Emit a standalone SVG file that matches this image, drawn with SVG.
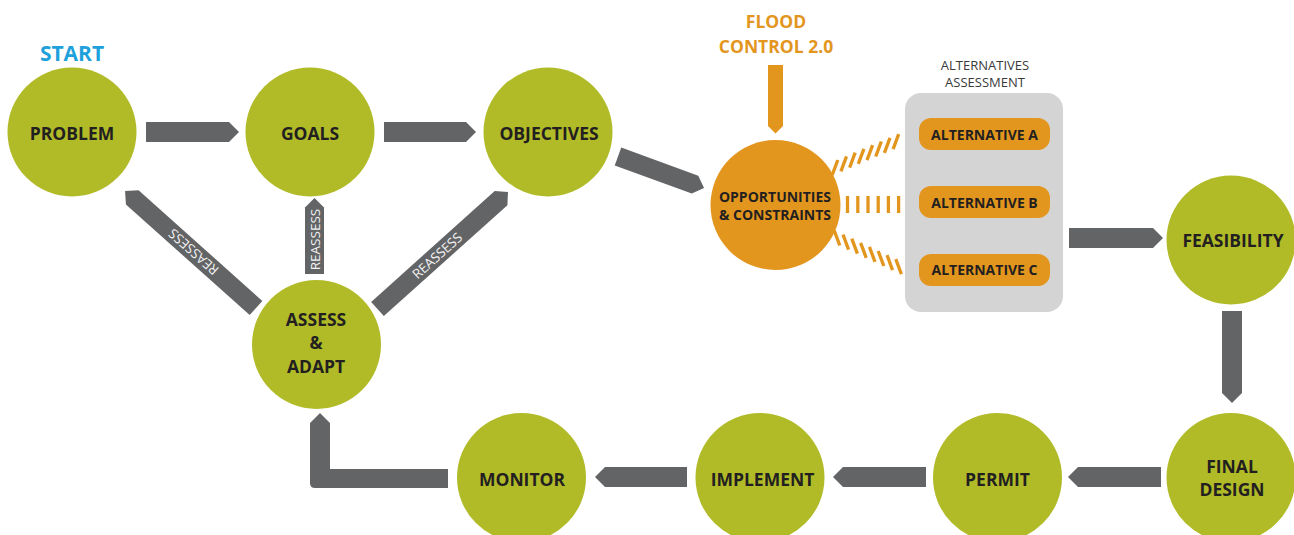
<svg xmlns="http://www.w3.org/2000/svg" width="1294" height="535" viewBox="0 0 1294 535">
<style>
.n{fill:#B1BB28}
.o{fill:#E3961E}
.a{fill:#636466}
.t{font-family:"Open Sans","Liberation Sans",sans-serif;font-weight:bold;fill:#231F20;text-anchor:middle}
.lg{font-size:17.5px}
.sm{font-size:14px}
.r{font-family:"Open Sans","Liberation Sans",sans-serif;font-size:13.5px;fill:#F2F2F2;text-anchor:middle;dominant-baseline:central}
.tk{stroke:#E3961E;stroke-width:3.3;fill:none}
</style>
<rect width="1294" height="535" fill="#FFFFFF"/>

<g id="labels">
<text x="72" y="61" style="font-family:'Open Sans','Liberation Sans',sans-serif;font-weight:bold;font-size:21px;fill:#1EA1DB;text-anchor:middle">START</text>
<text x="776" y="28" class="t" style="font-size:17.5px;fill:#E3961E">FLOOD</text>
<text x="776" y="53" class="t" style="font-size:17.5px;fill:#E3961E">CONTROL 2.0</text>
<text x="985" y="70" style="font-family:'Open Sans','Liberation Sans',sans-serif;font-size:13px;fill:#3A3A3A;text-anchor:middle">ALTERNATIVES</text>
<text x="985" y="87" style="font-family:'Open Sans','Liberation Sans',sans-serif;font-size:13px;fill:#3A3A3A;text-anchor:middle">ASSESSMENT</text>
</g>

<g id="connectors">
<polygon class="a" points="146,122 229,122 239,132 229,142 146,142"/>
<polygon class="a" points="384,122 466,122 476,132 466,142 384,142"/>
<path class="a" transform="translate(618,156.5) rotate(20.1)" d="M0,-9.5 H82 L91.6,0 L82,9.5 H0 Z"/>
<polygon class="o" points="768,65 783,65 783,126 775.5,133.5 768,126"/>
<polygon class="a" points="1069,228 1153,228 1163,238 1153,248 1069,248"/>
<polygon class="a" points="1222,311 1242,311 1242,393 1232,403 1222,393"/>
<polygon class="a" points="1161,467 1161,487 1078,487 1068,477 1078,467"/>
<polygon class="a" points="926,467 926,487 843,487 833,477 843,467"/>
<polygon class="a" points="687,467 687,487 605,487 595,477 605,467"/>
<path class="a" d="M448,469 H330 V423 L320,413 L310,423 V483 Q310,488 315,488 H448 Z"/>
<g transform="translate(256,308) rotate(221.8)">
<path class="a" d="M0,-9.5 H166 L175.6,0 L166,9.5 H0 Z"/>
<text class="r" x="84" y="0">REASSESS</text>
</g>
<g transform="translate(314.5,274) rotate(-90)">
<path class="a" d="M0,-9.5 H66.5 L76,0 L66.5,9.5 H0 Z"/>
<text class="r" x="34.5" y="0">REASSESS</text>
</g>
<g transform="translate(377.5,309) rotate(-41.9)">
<path class="a" d="M0,-9.5 H166 L175.3,0 L166,9.5 H0 Z"/>
<text class="r" x="80" y="0">REASSESS</text>
</g>
<g id="rays">
<line class="tk" x1="832.2" y1="175" x2="837.8" y2="160"/>
<line class="tk" x1="840.9" y1="171.3" x2="846.5" y2="156.3"/>
<line class="tk" x1="849.6" y1="167.6" x2="855.2" y2="152.6"/>
<line class="tk" x1="858.3" y1="163.9" x2="863.9" y2="148.9"/>
<line class="tk" x1="867" y1="160.2" x2="872.6" y2="145.2"/>
<line class="tk" x1="875.7" y1="156.5" x2="881.3" y2="141.5"/>
<line class="tk" x1="884.4" y1="152.8" x2="890" y2="137.8"/>
<line class="tk" x1="893.1" y1="149.1" x2="898.7" y2="134.1"/>
<line class="tk" x1="847.5" y1="196" x2="847.5" y2="213"/>
<line class="tk" x1="857.8" y1="196" x2="857.8" y2="213"/>
<line class="tk" x1="868" y1="196" x2="868" y2="213"/>
<line class="tk" x1="878.2" y1="196" x2="878.2" y2="213"/>
<line class="tk" x1="888.4" y1="196" x2="888.4" y2="213"/>
<line class="tk" x1="898.6" y1="196" x2="898.6" y2="213"/>
<line class="tk" x1="834.2" y1="230.5" x2="839.8" y2="245.5"/>
<line class="tk" x1="843" y1="234.6" x2="848.6" y2="249.6"/>
<line class="tk" x1="851.8" y1="238.7" x2="857.4" y2="253.7"/>
<line class="tk" x1="860.6" y1="242.8" x2="866.2" y2="257.8"/>
<line class="tk" x1="869.4" y1="246.9" x2="875" y2="261.9"/>
<line class="tk" x1="878.2" y1="251" x2="883.8" y2="266"/>
<line class="tk" x1="887" y1="255.1" x2="892.6" y2="270.1"/>
<line class="tk" x1="895.8" y1="259.2" x2="901.4" y2="274.2"/>
</g>
</g>

<g id="problem"><circle class="n" cx="72" cy="132" r="64.5"/><text class="t lg" x="72" y="140">PROBLEM</text></g>
<g id="goals"><circle class="n" cx="310" cy="132" r="64.5"/><text class="t lg" x="310" y="140">GOALS</text></g>
<g id="objectives"><circle class="n" cx="548" cy="132" r="64.5"/><text class="t lg" x="549" y="140">OBJECTIVES</text></g>
<g id="opportunities"><circle class="o" cx="775.5" cy="205" r="65"/><text class="t sm" x="775" y="202">OPPORTUNITIES</text><text class="t sm" x="775" y="220">&amp; CONSTRAINTS</text></g>
<g id="alternatives">
<rect x="905" y="93" width="158" height="219" rx="16" fill="#D4D4D4"/>
<g id="alt-a"><rect class="o" x="919" y="118" width="131" height="32" rx="12"/><text class="t sm" x="984.5" y="140">ALTERNATIVE A</text></g>
<g id="alt-b"><rect class="o" x="919" y="186" width="131" height="32" rx="12"/><text class="t sm" x="984.5" y="208">ALTERNATIVE B</text></g>
<g id="alt-c"><rect class="o" x="919" y="254" width="131" height="32" rx="12"/><text class="t sm" x="984.5" y="275">ALTERNATIVE C</text></g>
</g>
<g id="feasibility"><circle class="n" cx="1231" cy="240" r="64.5"/><text class="t lg" x="1233" y="247">FEASIBILITY</text></g>
<g id="final-design"><circle class="n" cx="1231" cy="477.5" r="64.5"/><text class="t lg" x="1232" y="473">FINAL</text><text class="t lg" x="1232" y="496">DESIGN</text></g>
<g id="permit"><circle class="n" cx="997.5" cy="477.5" r="64.5"/><text class="t lg" x="997.5" y="486">PERMIT</text></g>
<g id="implement"><circle class="n" cx="760" cy="477.5" r="64.5"/><text class="t lg" x="762.5" y="486">IMPLEMENT</text></g>
<g id="monitor"><circle class="n" cx="521.5" cy="477.5" r="64.5"/><text class="t lg" x="522" y="486">MONITOR</text></g>
<g id="assess-adapt"><circle class="n" cx="316.5" cy="344.5" r="64.5"/><text class="t lg" x="316" y="326">ASSESS</text><text class="t lg" x="316" y="349">&amp;</text><text class="t lg" x="316" y="373">ADAPT</text></g>
</svg>
